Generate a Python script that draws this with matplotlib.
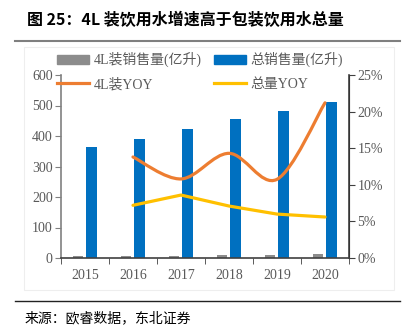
import numpy as np
import matplotlib
matplotlib.use('Agg')
import matplotlib.pyplot as plt
from matplotlib.path import Path
from matplotlib.patches import PathPatch, Patch
from matplotlib.lines import Line2D

plt.rcParams['font.family'] = ['Liberation Serif', 'Noto Sans CJK SC']

# data
years = ['2015', '2016', '2017', '2018', '2019', '2020']
sales_4l = [5, 7, 8, 9, 9, 12]
sales_total = [363, 390, 424, 455, 482, 510]
yoy_years = ['2016', '2017', '2018', '2019', '2020']
yoy_4l = [13.8, 10.8, 14.3, 10.75, 21.2]
yoy_total = [7.2, 8.6, 7.1, 6.0, 5.6]

col_gray = '#8C8C8C'
col_blue = '#0070C0'
col_orange = '#ED7D31'
col_yellow = '#FFC000'
tick_col = '#595959'


def smooth_path(xs, ys):
    # excel-like smoothed line: catmull-rom as cubic bezier
    pts = np.column_stack([xs, ys]).astype(float)
    n = len(pts)
    verts = [pts[0]]
    codes = [Path.MOVETO]
    for i in range(n - 1):
        p0 = pts[i - 1] if i > 0 else pts[i]
        p1 = pts[i]
        p2 = pts[i + 1]
        p3 = pts[i + 2] if i + 2 < n else pts[i + 1]
        c1 = p1 + (p2 - p0) / 6.0
        c2 = p2 - (p3 - p1) / 6.0
        verts += [c1, c2, p2]
        codes += [Path.CURVE4] * 3
    return Path(verts, codes)


fig = plt.figure(figsize=(4.05, 3.3), dpi=100)
ax = fig.add_axes([61 / 405, 1 - 258 / 330, 288 / 405, 183 / 330])
ax2 = ax.twinx()

x = np.arange(len(years))
w = 0.22
ax.bar(x - 0.145, sales_4l, w, color=col_gray, zorder=2)
ax.bar(x + 0.135, sales_total, w, color=col_blue, zorder=2)

xi = np.array([years.index(y) for y in yoy_years])
ax2.add_patch(PathPatch(smooth_path(xi, yoy_4l), fill=False, edgecolor=col_orange,
                        lw=2.3, capstyle='round', zorder=3))
ax2.plot(xi, yoy_total, color=col_yellow, lw=2.3, solid_capstyle='round', zorder=3)

ax.set_xlim(-0.5, len(years) - 0.5)
ax.set_ylim(0, 600)
ax.set_yticks(range(0, 601, 100))
ax2.set_ylim(0, 25)
ax2.set_yticks(range(0, 26, 5))
ax2.set_yticklabels([f'{v}%' for v in range(0, 26, 5)])

ax.set_xticks(x)
ax.set_xticklabels(years)
ax.set_xticks(np.arange(-0.5, len(years)), minor=True)
ax.tick_params(axis='x', which='major', length=0, pad=8, labelsize=10, labelcolor=tick_col)
ax.tick_params(axis='x', which='minor', length=4, direction='out', color='#404040')
ax.tick_params(axis='y', length=4, direction='out', color='#808080', labelsize=10,
               labelcolor=tick_col, pad=2)
ax2.tick_params(axis='y', length=4, direction='out', color='#404040', labelsize=10,
                labelcolor=tick_col, pad=2)

for a in (ax, ax2):
    a.spines['top'].set_visible(False)
    a.patch.set_visible(False)
ax.spines['left'].set_color('#808080')
ax.spines['left'].set_linewidth(1.2)
ax.spines['bottom'].set_color('#404040')
ax.spines['bottom'].set_linewidth(1.2)
ax2.spines['right'].set_color('#404040')
ax2.spines['right'].set_linewidth(1.2)
ax2.spines['left'].set_visible(False)
ax2.spines['bottom'].set_visible(False)

handles = [Patch(color=col_gray), Line2D([], [], color=col_orange, lw=2.3),
           Patch(color=col_blue), Line2D([], [], color=col_yellow, lw=2.3)]
labels = ['4L装销售量(亿升)', '4L装YOY', '总销售量(亿升)', '总量YOY']
fig.legend(handles, labels, ncol=2, loc='upper left', bbox_to_anchor=(57 / 405, 1 - 52 / 330),
           frameon=False, fontsize=10, handlelength=2.3, handleheight=0.6,
           handletextpad=0.35, columnspacing=0.85, labelspacing=0.75,
           labelcolor=tick_col, borderpad=0, borderaxespad=0)

# light chart frame
fig.add_artist(plt.Rectangle((24 / 405, 1 - 290 / 330), 370 / 405, 243 / 330,
                             transform=fig.transFigure, fill=False, edgecolor='#EEEEEE', lw=0.8))

fig.text(27 / 405, 1 - 20 / 330, '图 25：4L 装饮用水增速高于包装饮用水总量',
         family=['Noto Sans CJK SC'], fontsize=11.5, fontweight='bold', va='center', ha='left')
fig.add_artist(Line2D([15 / 405, 400 / 405], [1 - 41 / 330] * 2, color='#7F7F7F', lw=1.5,
                      transform=fig.transFigure))
fig.add_artist(Line2D([15 / 405, 400 / 405], [1 - 301 / 330] * 2, color='#222222', lw=1.0,
                      transform=fig.transFigure))
fig.text(25 / 405, 1 - 318 / 330, '来源：欧睿数据，东北证券',
         family=['Noto Sans CJK SC'], fontsize=10, va='center', ha='left')

fig.savefig('out.png', dpi=100)
